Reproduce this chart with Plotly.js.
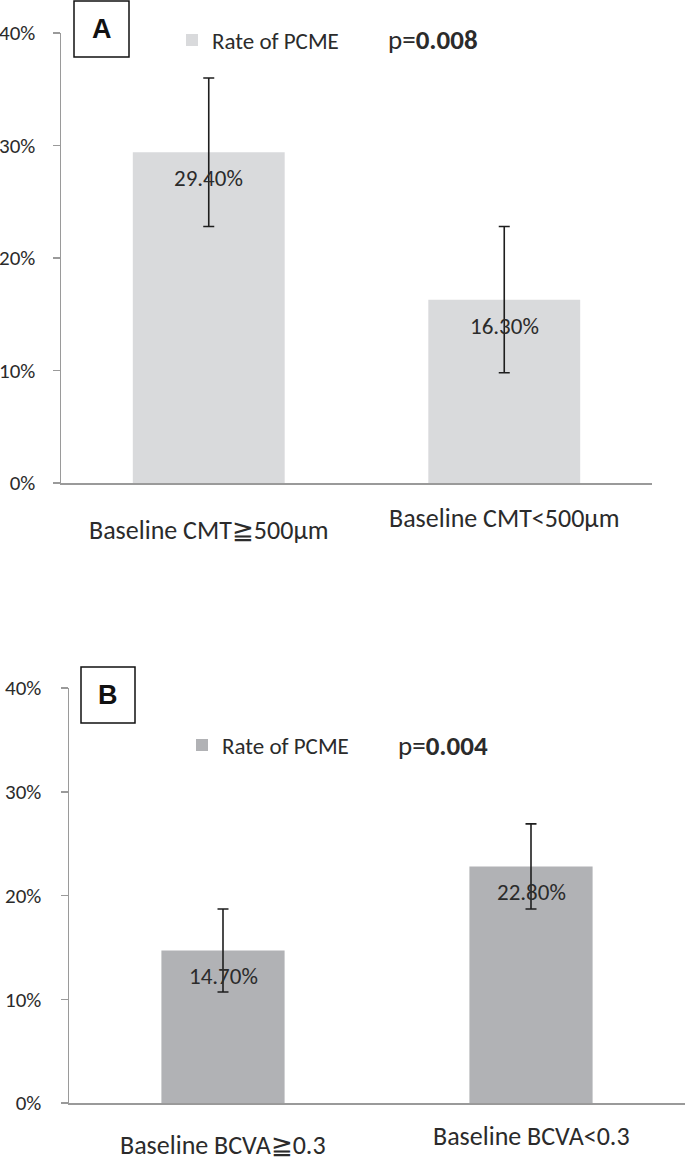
<!DOCTYPE html>
<html>
<head>
<meta charset="utf-8">
<script src="https://cdn.plot.ly/plotly-3.0.1.min.js"></script>
<style>html,body{margin:0;padding:0;background:#fff;}#chart{width:685px;height:1161px;}</style>
</head>
<body>
<div id="chart"></div>
<script>
// ---- data ----
const seriesName = 'Rate of PCME';
const categoriesA = ['Baseline CMT≧500μm', 'Baseline CMT<500μm'];
const valuesA = [29.4, 16.3];
const errorsA = [6.6, 6.5];
const pValueA = '0.008';
const panelA = 'A';

const categoriesB = ['Baseline BCVA≧0.3', 'Baseline BCVA<0.3'];
const valuesB = [14.7, 22.8];
const errorsB = [4.0, 4.1];
const pValueB = '0.004';
const panelB = 'B';

const yTickVals = [0, 10, 20, 30, 40];
const yTickText = ['0%', '10%', '20%', '30%', '40%'];

// ---- layout helpers ----
const W = 685, H = 1161;
const px = x => x / W;
const py = y => 1 - y / H;
const FONT = 'Carlito, Lato, "Noto Sans", sans-serif';
const TXT = '#2b2b2b';
const AXC = '#9a9a9a';

const traces = [
  {
    type: 'bar', name: seriesName, x: categoriesA, y: valuesA,
    xaxis: 'x', yaxis: 'y', legend: 'legend',
    marker: {color: '#d9dadc'}, width: 0.514,
    error_y: {type: 'data', array: errorsA, visible: true, color: '#1e1e1e', thickness: 1.6, width: 5.5},
    hoverinfo: 'skip'
  },
  {
    type: 'bar', name: seriesName, x: categoriesB, y: valuesB,
    xaxis: 'x2', yaxis: 'y2', legend: 'legend2',
    marker: {color: '#b1b2b5'}, width: 0.4,
    error_y: {type: 'data', array: errorsB, visible: true, color: '#1e1e1e', thickness: 1.6, width: 5.5},
    hoverinfo: 'skip'
  }
];

function yAxis(domain, anchor, standoff) {
  return {
    domain: domain, anchor: anchor, range: [0, 40], autorange: false,
    tickvals: yTickVals, ticktext: yTickText,
    showline: true, linecolor: AXC, linewidth: 1.5,
    ticks: 'outside', ticklen: 7, tickcolor: AXC, tickwidth: 1.5,
    showgrid: false, zeroline: false,
    tickfont: {family: FONT, size: 21, color: TXT},
    ticklabelstandoff: standoff, fixedrange: true
  };
}
function xAxis(domain, anchor) {
  return {
    domain: domain, anchor: anchor, type: 'category',
    showline: true, linecolor: AXC, linewidth: 1.5,
    ticks: '', showticklabels: false, showgrid: false, zeroline: false, fixedrange: true
  };
}

const annotations = [];
function addPanelText(cats, vals, xr, yr, labelShifts) {
  cats.forEach((c, i) => {
    annotations.push({
      x: c, y: vals[i], xref: xr, yref: yr, text: vals[i].toFixed(2) + '%',
      showarrow: false, yanchor: 'middle', yshift: -26, borderpad: 0,
      font: {family: FONT, size: 23, color: TXT}
    });
    annotations.push({
      x: c, y: 0, xref: xr, yref: yr, text: c,
      showarrow: false, yanchor: 'middle', yshift: labelShifts[i], borderpad: 0,
      font: {family: FONT, size: 26, color: TXT}
    });
  });
}
addPanelText(categoriesA, valuesA, 'x', 'y', [-47, -35]);
addPanelText(categoriesB, valuesB, 'x2', 'y2', [-42, -33]);

// p-values
annotations.push({xref: 'paper', yref: 'paper', x: px(386), y: py(40), xanchor: 'left', yanchor: 'middle',
  text: 'p=<b>' + pValueA + '</b>', showarrow: false, font: {family: FONT, size: 27, color: TXT}});
annotations.push({xref: 'paper', yref: 'paper', x: px(396), y: py(745), xanchor: 'left', yanchor: 'middle',
  text: 'p=<b>' + pValueB + '</b>', showarrow: false, font: {family: FONT, size: 27, color: TXT}});
// panel letters
annotations.push({xref: 'paper', yref: 'paper', x: px(101.5), y: py(29), xanchor: 'center', yanchor: 'middle',
  text: '<b>' + panelA + '</b>', showarrow: false, font: {family: 'Liberation Sans, Arial, sans-serif', size: 27, color: '#111'}});
annotations.push({xref: 'paper', yref: 'paper', x: px(108), y: py(695), xanchor: 'center', yanchor: 'middle',
  text: '<b>' + panelB + '</b>', showarrow: false, font: {family: 'Liberation Sans, Arial, sans-serif', size: 27, color: '#111'}});

const shapes = [
  {type: 'rect', xref: 'paper', yref: 'paper', x0: px(74), x1: px(129), y0: py(1), y1: py(57),
   line: {color: '#111', width: 1.5}, fillcolor: 'rgba(0,0,0,0)'},
  {type: 'rect', xref: 'paper', yref: 'paper', x0: px(81), x1: px(135), y0: py(667), y1: py(723),
   line: {color: '#111', width: 1.5}, fillcolor: 'rgba(0,0,0,0)'}
];

const legendStyle = {orientation: 'v', xanchor: 'left', yanchor: 'middle', bgcolor: 'rgba(0,0,0,0)',
  borderwidth: 0, font: {family: FONT, size: 23, color: TXT}, itemclick: false, itemdoubleclick: false};

const layout = {
  width: W, height: H,
  margin: {l: 0, r: 0, t: 0, b: 0},
  paper_bgcolor: '#fff', plot_bgcolor: '#fff',
  showlegend: true,
  xaxis: xAxis([px(61), px(652)], 'y'),
  yaxis: yAxis([py(483), py(33)], 'x', 13),
  xaxis2: xAxis([px(69), 1], 'y2'),
  yaxis2: yAxis([py(1103), py(688)], 'x2', 15),
  legend: Object.assign({x: px(172), y: py(40)}, legendStyle),
  legend2: Object.assign({x: px(182), y: py(745)}, legendStyle),
  annotations: annotations,
  shapes: shapes
};

Plotly.newPlot('chart', traces, layout, {displayModeBar: false, staticPlot: true});
</script>
</body>
</html>
